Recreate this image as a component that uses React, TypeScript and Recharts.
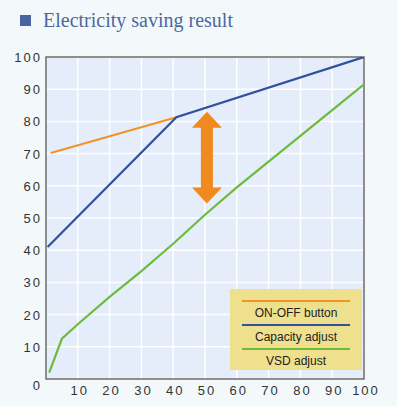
import React from "react";
import {
  LineChart,
  Line,
  XAxis,
  YAxis,
  CartesianGrid,
  ReferenceArea,
  ReferenceLine,
  Legend,
} from "recharts";

const xTicks = [10, 20, 30, 40, 50, 60, 70, 80, 90, 100];
const yTicks = [0, 10, 20, 30, 40, 50, 60, 70, 80, 90, 100];

const onOffX = [1.5, 41];
const onOffY = [70.2, 81.3];

const capacityX = [0.5, 41, 100];
const capacityY = [41, 81.3, 100];

const vsdX = [1, 5, 10, 20, 30, 40, 50, 60, 70, 80, 90, 100];
const vsdY = [2, 12.5, 17, 25.5, 33.5, 42, 51, 59.5, 67.5, 75.5, 83.5, 91.5];

const arrowX = 50.6;
const arrowTop = 83;
const arrowBottom = 54.5;

const seriesNames = ["ON-OFF button", "Capacity adjust", "VSD adjust"];
const seriesColors = ["#f29327", "#31509e", "#6cbb3c"];

const onOffData = onOffX.map((x, i) => ({ x, y: onOffY[i] }));
const capacityData = capacityX.map((x, i) => ({ x, y: capacityY[i] }));
const vsdData = vsdX.map((x, i) => ({ x, y: vsdY[i] }));

const tickFont = {
  fontFamily: "'Liberation Sans', Arial, sans-serif",
  fontSize: 13,
  letterSpacing: 2,
  fill: "#333",
};

const YTick = (props: any) => {
  const { x, y, payload } = props;
  const shift = payload.value === 0 ? 6 : 0;
  return (
    <text x={x} y={y + shift} dy={5} textAnchor="end" style={tickFont as any} fill="#333">
      {payload.value}
    </text>
  );
};

const XTick = (props: any) => {
  const { x, y, payload } = props;
  return (
    <text x={x + 2} y={y} dy={14} textAnchor="middle" style={tickFont as any} fill="#333">
      {payload.value}
    </text>
  );
};

const ArrowShape = (props: any) => {
  const { x1, y1, x2, y2 } = props;
  const cx = (x1 + x2) / 2;
  const top = Math.min(y1, y2);
  const bot = Math.max(y1, y2);
  const hh = 16;
  const hw = 15;
  const sw = 6;
  const pts = [
    [cx, top],
    [cx + hw, top + hh],
    [cx + sw, top + hh],
    [cx + sw, bot - hh],
    [cx + hw, bot - hh],
    [cx, bot],
    [cx - hw, bot - hh],
    [cx - sw, bot - hh],
    [cx - sw, top + hh],
    [cx - hw, top + hh],
  ]
    .map((p) => p.join(","))
    .join(" ");
  return <polygon points={pts} fill="#f08a1e" />;
};

const LegendBox = () => (
  <div
    style={{
      width: 132,
      height: 81,
      background: "#eee08c",
      boxSizing: "border-box",
      paddingTop: 11,
      fontFamily: "'Liberation Sans', Arial, sans-serif",
      fontSize: 12,
      color: "#222",
      textAlign: "center",
    }}
  >
    {seriesNames.map((n, i) => (
      <div key={n} style={{ height: 24 }}>
        <div
          style={{
            height: 2,
            background: seriesColors[i],
            margin: "0 12px 0 12px",
          }}
        />
        <div style={{ lineHeight: "22px", paddingTop: 0 }}>{n}</div>
      </div>
    ))}
  </div>
);

export default function App() {
  return (
    <div
      style={{
        position: "absolute",
        left: 0,
        top: 0,
        width: 397,
        height: 406,
        background: "#f3f9fb",
        overflow: "hidden",
      }}
    >
      <div
        style={{
          position: "absolute",
          left: 20,
          top: 15,
          width: 11,
          height: 11,
          background: "#4b64a1",
        }}
      />
      <div
        style={{
          position: "absolute",
          left: 43,
          top: 9,
          fontFamily: "'Liberation Serif', 'DejaVu Serif', serif",
          fontSize: 20,
          color: "#4e679f",
          whiteSpace: "nowrap",
        }}
      >
        Electricity saving result
      </div>
      <div style={{ position: "absolute", left: 0, top: 0 }}>
        <LineChart
          width={397}
          height={406}
          margin={{ top: 57, right: 33, left: 0, bottom: 0 }}
        >
          <CartesianGrid
            fill="#e4edf9"
            stroke="#ffffff"
            strokeWidth={1.5}
            horizontalValues={yTicks}
            verticalValues={xTicks}
          />
          <XAxis
            type="number"
            dataKey="x"
            domain={[0, 100]}
            ticks={xTicks}
            height={27}
            axisLine={false}
            tickLine={false}
            tickSize={0}
            tick={<XTick />}
            allowDataOverflow
          />
          <YAxis
            type="number"
            dataKey="y"
            domain={[0, 100]}
            ticks={yTicks}
            width={46}
            axisLine={false}
            tickLine={false}
            tickSize={0}
            tickMargin={4}
            tick={<YTick />}
            allowDataOverflow
          />
          <ReferenceArea
            x1={0}
            x2={100}
            y1={0}
            y2={100}
            fill="none"
            fillOpacity={0}
            stroke="#6b6b6b"
            strokeWidth={1.5}
          />
          <Line
            data={onOffData}
            dataKey="y"
            name={seriesNames[0]}
            stroke={seriesColors[0]}
            strokeWidth={2.2}
            dot={false}
            isAnimationActive={false}
          />
          <Line
            data={capacityData}
            dataKey="y"
            name={seriesNames[1]}
            stroke={seriesColors[1]}
            strokeWidth={2.2}
            dot={false}
            isAnimationActive={false}
          />
          <Line
            data={vsdData}
            dataKey="y"
            name={seriesNames[2]}
            stroke={seriesColors[2]}
            strokeWidth={2.2}
            dot={false}
            type="linear"
            isAnimationActive={false}
          />
          <ReferenceLine
            segment={[
              { x: arrowX, y: arrowTop },
              { x: arrowX, y: arrowBottom },
            ]}
            shape={<ArrowShape />}
          />
          <Legend
            layout="horizontal"
            verticalAlign="middle"
            align="center"
            content={<LegendBox />}
            wrapperStyle={{ left: 230, top: 289, width: 132, height: 81 }}
          />
        </LineChart>
      </div>
    </div>
  );
}
